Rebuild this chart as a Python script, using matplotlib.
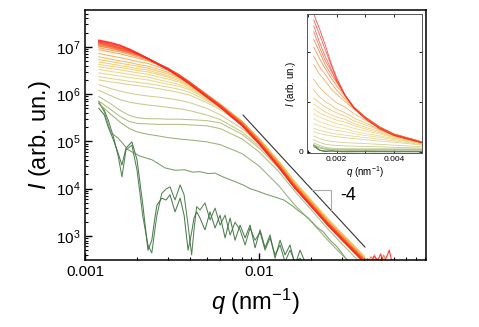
import numpy as np
import matplotlib.pyplot as plt
from matplotlib.colors import LinearSegmentedColormap
from matplotlib.ticker import FixedLocator, FixedFormatter, NullFormatter, LogLocator

plt.rcParams['font.family'] = ['Liberation Sans', 'DejaVu Sans']
plt.rcParams['mathtext.fontset'] = 'custom'
plt.rcParams['mathtext.rm'] = 'Liberation Sans'
plt.rcParams['mathtext.it'] = 'Liberation Sans:italic'

# q grid (nm^-1) for the smooth frames
q = [0.0012, 0.0014, 0.0016, 0.0018, 0.002, 0.0023, 0.0026, 0.003, 0.0035, 0.004,
     0.005, 0.006, 0.008, 0.01, 0.013, 0.016, 0.02, 0.025, 0.03, 0.04]

# log10(I), latest frame (red) first
y00 = [7.14, 7.09, 7.03, 6.95, 6.87, 6.75, 6.64, 6.52, 6.36, 6.21, 5.94, 5.72, 5.33, 4.95, 4.45, 4.02, 3.62, 3.22, 2.92, 2.45]
y01 = [7.12, 7.07, 7.01, 6.94, 6.86, 6.75, 6.64, 6.52, 6.37, 6.22, 5.95, 5.73, 5.34, 4.96, 4.46, 4.03, 3.63, 3.23, 2.93, 2.46]
y02 = [7.10, 7.04, 6.98, 6.92, 6.85, 6.75, 6.65, 6.53, 6.38, 6.23, 5.96, 5.74, 5.35, 4.97, 4.47, 4.04, 3.64, 3.24, 2.94, 2.47]
y03 = [7.08, 7.02, 6.96, 6.91, 6.85, 6.75, 6.65, 6.54, 6.39, 6.24, 5.97, 5.75, 5.36, 4.98, 4.48, 4.05, 3.65, 3.25, 2.95, 2.48]
y04 = [7.05, 7.00, 6.94, 6.89, 6.84, 6.75, 6.65, 6.54, 6.40, 6.25, 5.98, 5.76, 5.37, 4.99, 4.49, 4.06, 3.66, 3.26, 2.96, 2.49]
y05 = [7.02, 6.97, 6.92, 6.87, 6.82, 6.74, 6.65, 6.54, 6.39, 6.25, 5.98, 5.76, 5.38, 5.00, 4.50, 4.07, 3.67, 3.27, 2.97, 2.50]
y06 = [6.98, 6.93, 6.89, 6.84, 6.79, 6.72, 6.64, 6.54, 6.39, 6.25, 5.99, 5.77, 5.39, 5.01, 4.51, 4.08, 3.68, 3.28, 2.98, 2.51]
y07 = [6.94, 6.89, 6.85, 6.80, 6.76, 6.70, 6.63, 6.53, 6.39, 6.25, 5.99, 5.78, 5.40, 5.02, 4.52, 4.09, 3.69, 3.29, 2.99, 2.52]
y08 = [6.86, 6.81, 6.77, 6.73, 6.69, 6.65, 6.58, 6.50, 6.38, 6.24, 5.99, 5.78, 5.41, 5.03, 4.53, 4.10, 3.70, 3.30, 3.00, 2.53]
y09 = [6.79, 6.74, 6.70, 6.67, 6.63, 6.59, 6.53, 6.46, 6.35, 6.22, 5.98, 5.78, 5.42, 5.04, 4.54, 4.11, 3.71, 3.31, 3.01, 2.54]
y10 = [6.73, 6.69, 6.65, 6.62, 6.59, 6.55, 6.49, 6.43, 6.34, 6.21, 5.97, 5.78, 5.42, 5.05, 4.55, 4.12, 3.72, 3.32, 3.02, 2.55]
y11 = [6.68, 6.64, 6.60, 6.57, 6.54, 6.51, 6.45, 6.39, 6.31, 6.19, 5.96, 5.77, 5.42, 5.05, 4.56, 4.13, 3.73, 3.33, 3.03, 2.56]
y12 = [6.63, 6.59, 6.56, 6.53, 6.50, 6.47, 6.42, 6.36, 6.28, 6.17, 5.94, 5.76, 5.42, 5.06, 4.57, 4.14, 3.74, 3.34, 3.04, 2.57]
y13 = [6.58, 6.54, 6.51, 6.48, 6.45, 6.42, 6.37, 6.32, 6.25, 6.15, 5.93, 5.75, 5.41, 5.06, 4.57, 4.14, 3.74, 3.34, 3.04, 2.57]
y14 = [6.52, 6.48, 6.45, 6.42, 6.39, 6.36, 6.31, 6.26, 6.20, 6.12, 5.91, 5.74, 5.41, 5.06, 4.58, 4.15, 3.75, 3.35, 3.05, 2.58]
y15 = [6.45, 6.41, 6.38, 6.35, 6.33, 6.30, 6.26, 6.21, 6.16, 6.09, 5.89, 5.72, 5.40, 5.05, 4.58, 4.15, 3.75, 3.35, 3.05, 2.58]
y16 = [6.37, 6.33, 6.30, 6.27, 6.25, 6.22, 6.19, 6.15, 6.10, 6.04, 5.86, 5.70, 5.38, 5.04, 4.57, 4.15, 3.75, 3.35, 3.05, 2.58]
y17 = [6.30, 6.26, 6.23, 6.20, 6.18, 6.15, 6.12, 6.08, 6.03, 5.98, 5.82, 5.67, 5.36, 5.02, 4.56, 4.14, 3.74, 3.34, 3.04, 2.57]
l1 = [6.20, 6.12, 6.06, 6.02, 5.99, 5.96, 5.94, 5.91, 5.87, 5.82, 5.70, 5.56, 5.27, 4.95, 4.50, 4.08, 3.69, 3.29, 2.99, 2.52]
l2 = [6.08, 5.97, 5.88, 5.83, 5.80, 5.77, 5.75, 5.72, 5.69, 5.65, 5.56, 5.46, 5.20, 4.90, 4.47, 4.06, 3.67, 3.27, 2.97, 2.50]
a = [5.95, 5.80, 5.65, 5.55, 5.50, 5.48, 5.48, 5.47, 5.47, 5.46, 5.44, 5.39, 5.15, 4.86, 4.43, 4.02, 3.62, 3.21, 2.90, 2.43]
b = [5.85, 5.68, 5.52, 5.42, 5.38, 5.37, 5.36, 5.36, 5.36, 5.35, 5.33, 5.27, 5.05, 4.78, 4.36, 3.95, 3.55, 3.14, 2.83, 2.36]
c = [5.80, 5.58, 5.40, 5.27, 5.20, 5.15, 5.12, 5.08, 5.05, 5.03, 4.99, 4.93, 4.74, 4.48, 4.06, 3.66, 3.30, 2.90, 2.60, 2.17]

# early frame with a weak shoulder
qd = [0.0012, 0.00129, 0.00141, 0.00155, 0.00177, 0.00207, 0.00243, 0.00288, 0.00329, 0.00375, 0.00415,
      0.00458, 0.0051, 0.00559, 0.0062, 0.00682, 0.0075, 0.0082, 0.00888, 0.0098, 0.01083, 0.0122,
      0.01391, 0.0155, 0.0172, 0.0192, 0.0215, 0.0235, 0.0256, 0.0281, 0.0321, 0.0356]
d = [5.85, 5.62, 5.18, 5.07, 4.82, 4.69, 4.61, 4.44, 4.39, 4.40, 4.35,
     4.36, 4.32, 4.33, 4.25, 4.19, 4.13, 4.07, 4.00, 3.95, 3.89, 3.83,
     3.76, 3.64, 3.51, 3.38, 3.19, 3.08, 2.91, 2.77, 2.49, 2.32]

# first frames: form factor fringes, then noise
qf = [0.00120, 0.00129, 0.00136, 0.00145, 0.00155, 0.00163, 0.00172, 0.00186, 0.00199, 0.00215,
      0.00230, 0.00242, 0.00252, 0.00259, 0.00276, 0.00292, 0.00308, 0.00329, 0.00352, 0.00371,
      0.00391, 0.00410, 0.00423, 0.00438, 0.00458, 0.00489, 0.00523, 0.00559, 0.00597, 0.00638,
      0.00682, 0.00728, 0.00778, 0.00832, 0.00888, 0.00949, 0.01014, 0.01083, 0.01157, 0.01236,
      0.01321, 0.01411, 0.01507, 0.01610, 0.01720, 0.01838]
f1 = [5.81, 5.66, 5.45, 5.12, 4.70, 4.25, 4.82, 4.92, 4.39, 3.41,
      2.81, 2.64, 3.13, 3.44, 3.90, 3.99, 4.04, 3.76, 4.08, 3.87,
      3.23, 2.60, 3.13, 3.62, 3.55, 3.70, 3.34, 3.59, 3.23, 3.44,
      3.02, 3.29, 3.13, 2.81, 3.17, 2.91, 3.08, 2.70, 2.96, 2.60,
      2.81, 2.45, 2.70, 2.45, 2.53, 2.38]
f2 = [5.70, 5.56, 5.30, 5.05, 4.75, 4.50, 4.86, 4.99, 4.61, 3.65,
      2.70, 2.91, 3.38, 3.65, 3.80, 3.76, 3.87, 3.51, 3.80, 3.44,
      2.70, 3.08, 3.38, 3.51, 3.38, 3.13, 3.51, 3.17, 3.44, 2.96,
      3.38, 2.91, 3.23, 2.96, 3.23, 2.75, 3.13, 2.75, 3.02, 2.53,
      2.91, 2.60, 2.81, 2.38, 2.70, 2.45]

# noisy background tails of the latest frames
q_tail = [0.040, 0.042, 0.044, 0.046, 0.048, 0.050, 0.052, 0.054, 0.056, 0.058, 0.060]
tail_red = [2.45, 2.52, 2.44, 2.58, 2.47, 2.62, 2.45, 2.55, 2.70, 2.46, 2.40]
tail_orange = [2.50, 2.44, 2.56, 2.47, 2.52, 2.43, 2.60, 2.46, 2.41, 2.50, 2.38]
tail_yellow = [2.57, 2.47, 2.45, 2.60, 2.48, 2.44, 2.53, 2.42, 2.38, 2.45, 2.35]

# q^-4 guide
guide_q = [0.0081, 0.0406]
guide_logI = [5.556, 2.767]
tri_q = [0.0202, 0.0258, 0.0258]
tri_logI = [3.97, 3.97, 3.55]

# earliest -> latest
frames = [(qf, f2), (qf, f1), (qd, d), (q, c), (q, b), (q, a), (q, l2), (q, l1),
          (q, y17), (q, y16), (q, y15), (q, y14), (q, y13), (q, y12), (q, y11), (q, y10),
          (q, y09), (q, y08), (q, y07), (q, y06), (q, y05), (q, y04), (q, y03), (q, y02),
          (q, y01), (q, y00)]

cmap = LinearSegmentedColormap.from_list(
    'frames', ['#2b6530', '#5b8c4b', '#9fb06a', '#c8c47c', '#e6d47c', '#f3c55c',
               '#f59e3a', '#f5652e', '#ff2424'])
pos = np.concatenate([[0.0, 0.03, 0.13, 0.21, 0.26, 0.30, 0.34, 0.38],
                      np.linspace(0.42, 1.0, 18)])
colors = cmap(pos)

fig = plt.figure(figsize=(4.79, 3.27), dpi=100)
ax = fig.add_axes([0.1775, 0.205, 0.712, 0.764])

for i, (qq, li) in enumerate(frames):
    lw = 1.1 if i >= 20 else 0.75
    ax.plot(qq, 10 ** np.array(li), color=colors[i], lw=lw, alpha=0.85, zorder=2 + i * 0.01)
for tl, ci in [(tail_yellow, 13), (tail_orange, 20), (tail_red, 25)]:
    ax.plot(q_tail, 10 ** np.array(tl), color=colors[ci], lw=0.8, alpha=0.9, zorder=2.3)

ax.plot(guide_q, 10 ** np.array(guide_logI), color='#333333', lw=0.8, zorder=3)
ax.plot(tri_q, 10 ** np.array(tri_logI), color='#aaaaaa', lw=0.8, zorder=3)
ax.text(0.0325, 10 ** 3.865, '-4', fontsize=13, ha='center', va='center')

ax.set_xscale('log')
ax.set_yscale('log')
ax.set_xlim(0.001, 0.0912)
ax.set_ylim(311, 5.97e7)
ax.xaxis.set_major_locator(FixedLocator([0.001, 0.01]))
ax.xaxis.set_major_formatter(FixedFormatter(['0.001', '0.01']))
ax.xaxis.set_minor_locator(LogLocator(base=10, subs=np.arange(2, 10)))
ax.xaxis.set_minor_formatter(NullFormatter())
ax.yaxis.set_major_locator(FixedLocator([1e3, 1e4, 1e5, 1e6, 1e7]))
ax.yaxis.set_minor_locator(LogLocator(base=10, subs=np.arange(2, 10), numticks=20))
ax.yaxis.set_minor_formatter(NullFormatter())
ax.tick_params(which='both', direction='in', top=False, right=False, labelsize=11)
ax.tick_params(which='major', length=5, width=1)
ax.tick_params(which='minor', length=2.5, width=0.8)
for s in ax.spines.values():
    s.set_linewidth(1.1)
ax.set_xlabel(r'$q$ (nm$^{-1}$)', fontsize=17, labelpad=6)
ax.set_ylabel(r'$I$ (arb. un.)', fontsize=17, labelpad=2)

# inset, linear scale
ins = fig.add_axes([0.640, 0.531, 0.242, 0.426])
for i, (qq, li) in enumerate(frames):
    ins.plot(qq, 10 ** np.array(li), color=colors[i], lw=0.6, alpha=0.8)
ins.set_xlim(0.00095, 0.005)
ins.set_ylim(-1.6e5, 1.377e7)
ins.set_xticks([0.001, 0.002, 0.003, 0.004, 0.005])
ins.set_xticklabels(['', '0.002', '', '0.004', ''])
ins.set_yticks([0, 5e6, 1e7])
ins.set_yticklabels(['0', '', ''])
ins.tick_params(direction='in', top=True, right=True, length=2.5, width=0.6, labelsize=6, pad=2)
for s in ins.spines.values():
    s.set_linewidth(0.7)
    s.set_color('#555555')
ins.set_xlabel(r'$q$ (nm$^{-1}$)', fontsize=7, labelpad=1)
ins.set_ylabel(r'$I$ (arb. un.)', fontsize=7, labelpad=1)

fig.savefig('out.png', dpi=100)
